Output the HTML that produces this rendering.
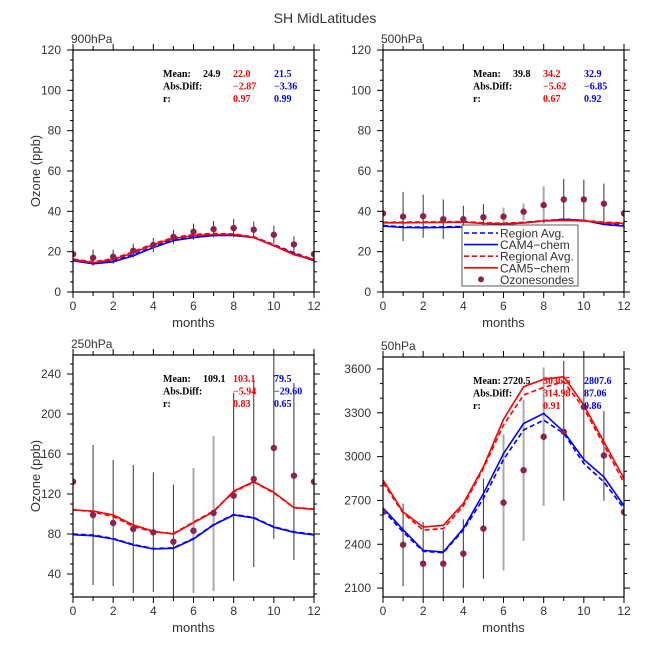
<!DOCTYPE html>
<html><head><meta charset="utf-8"><style>
body{margin:0;background:#fff}
svg text{font-family:"Liberation Sans",sans-serif}
.st{font-family:"Liberation Serif",serif;font-size:10px;font-weight:bold}
</style></head><body>
<svg id="c" width="648" height="648" xmlns="http://www.w3.org/2000/svg">
<text x="325" y="23" text-anchor="middle" font-size="14" fill="#333">SH MidLatitudes</text>
</svg>
<script>
const months=[0,1,2,3,4,5,6,7,8,9,10,11,12];
// 900hPa
const p900_cam4=[15.5,14,15,18,22,25.5,27,28,28,27,23,19,15.5];
const p900_cam4d=[16,14.5,15.5,18.5,22.5,26,27.5,28,28.2,27.3,23.5,19.5,16];
const p900_cam5=[16,14.5,16,19.5,23.5,26.5,28,28.5,28.5,27,23,18.5,16];
const p900_cam5d=[16.3,15,16.5,20,24,27,28.5,29,28.8,27.3,23.3,18.8,16.3];
const p900_obs=[18.8,17,17.5,20.5,23.3,27.3,29.9,31.2,31.7,30.9,28.4,23.6,18.8];
const p900_err=[0,4,3.5,3.5,3.5,3.5,4,4,4.5,4,4.5,4,0];
// 500hPa
const p500_cam4=[32.7,32,31.9,32,32.2,32.6,33.6,34.3,35.2,36,35.5,33.5,32.7];
const p500_cam4d=[33,32.3,32.2,32.3,32.5,32.9,33.8,34.5,35.4,36.1,35.6,33.8,33];
const p500_cam5=[34.3,34.3,34.4,34.5,34.6,34,33.8,34.2,35.2,35.5,35.2,34.3,34];
const p500_cam5d=[34.6,34.6,34.7,34.8,34.9,34.3,34.1,34.5,35.4,35.7,35.5,34.6,34.3];
const p500_obs=[39,37.4,37.6,36.1,36.1,37.1,37.4,39.8,43.1,45.9,45.9,43.8,39];
const p500_err=[0,12.2,10.7,9.8,6.7,6.4,4.5,4.1,9.3,10.2,9.8,10,0];
// 250hPa
const p250_cam4=[79.3,78.3,75,69,65,65.7,75,89,99,96,86.7,81.7,79];
const p250_cam4d=[80,79,75.5,69.5,65.5,66.2,75.5,89.5,99.5,96.5,87.2,82.2,79.7];
const p250_cam5=[104,103,99,89,82.7,80,91.3,102.3,123,132.3,121.7,106.3,104.7];
const p250_cam5d=[104.5,102,97.5,87.5,82,80.5,92,103,122,132,121,106.5,105];
const p250_obs=[132.3,99,91,85,81.7,72.3,83.3,101,118.3,135,166,138.3,132.3];
const p250_hi=[132.3,169,154,149,141.7,129.3,146,178,221,234,270,231,132.3];
const p250_lo=[132.3,29,28,21,22,17,21,23,33,47,75,54,132.3];
// 50hPa
const p50_cam4=[2649,2500,2358,2347,2507,2747,3021,3227,3296,3170,2980,2861,2663];
const p50_cam4d=[2633,2484,2351,2342,2496,2713,2980,3182,3250,3158,2953,2827,2644];
const p50_cam5=[2839,2621,2518,2530,2679,2930,3255,3479,3529,3547,3353,3101,2850];
const p50_cam5d=[2821,2614,2496,2507,2661,2919,3216,3422,3474,3513,3330,3079,2821];
const p50_obs=[2621,2397,2267,2267,2336,2507,2685,2907,3136,3170,3340,3008,2621];
const p50_hi=[2621,2679,2553,2496,2571,2850,3154,3387,3611,3655,3700,3312,2621];
const p50_lo=[2621,2112,2026,2039,2100,2164,2221,2422,2662,2697,2953,2697,2621];
const yt900=[0,20,40,60,80,100,120];
const yt250=[40,80,120,160,200,240];
const yt50=[2100,2400,2700,3000,3300,3600];
const xt=[0,2,4,6,8,10,12];

const NS="http://www.w3.org/2000/svg";
const svg=document.getElementById('c');
function mk(tag,attrs,parent){const e=document.createElementNS(NS,tag);for(const k in attrs)e.setAttribute(k,attrs[k]);(parent||svg).appendChild(e);return e;}

function panel(o){
  const g=mk('g',{});
  
  
  const L=o.x0,R=o.x1,T=o.y0,B=o.y1;
  const sx=v=>L+(v-0)/12*(R-L);
  const sy=v=>B-(v-o.min)/(o.max-o.min)*(B-T);
  // clip
  const cid='clip'+o.name;
  const cp=mk('clipPath',{id:cid},g);mk('rect',{x:L,y:T,width:R-L,height:B-T},cp);
  const pg=mk('g',{'clip-path':'url(#'+cid+')'},g);
  // error bars
  for(let i=0;i<months.length;i++){
    const hi=o.hi?o.hi[i]:o.obs[i]+o.err[i], lo=o.lo?o.lo[i]:o.obs[i]-o.err[i];
    if(hi-lo<=0)continue;
    const gray=o.gray&&o.gray.includes(i);
    const e=mk('line',{x1:sx(months[i]),x2:sx(months[i]),y1:sy(hi),y2:sy(lo),stroke:gray?'#aaa':'#333','stroke-width':gray?2:1},pg);
    
    
  }
  const series=[[o.c4,'#0000ff',''],[o.c4d,'#0000ff','5,3'],[o.c5,'#ff0000',''],[o.c5d,'#ff0000','5,3']];
  const nm=['cam4-chem-line','region-avg-line','cam5-chem-line','regional-avg-line'];
  series.forEach((s,k)=>{
    const pts=months.map((m,i)=>sx(m).toFixed(1)+','+sy(s[0][i]).toFixed(1)).join(' ');
    const p=mk('polyline',{points:pts,fill:'none',stroke:s[1],'stroke-width':1.6,'stroke-dasharray':s[2]},pg);
    
    
  });
  for(let i=0;i<months.length;i++){
    const c=mk('circle',{cx:sx(months[i]),cy:sy(o.obs[i]),r:3.2,fill:'#8b2252'},pg);
    
    
  }
  // frame
  mk('rect',{x:L,y:T,width:R-L,height:B-T,fill:'none',stroke:'#000','stroke-width':1.2},g);
  // x ticks
  for(let m=0;m<=12;m+=0.5){
    const maj=m%2===0, mid=Number.isInteger(m);
    const len=maj?6:(mid?4:0);
    if(!len)continue;
    mk('line',{x1:sx(m),x2:sx(m),y1:B,y2:B+len,stroke:'#000'},g);
    mk('line',{x1:sx(m),x2:sx(m),y1:T,y2:T-len,stroke:'#000'},g);
  }
  xt.forEach(v=>{const t=mk('text',{x:sx(v),y:B+18,'text-anchor':'middle','font-size':12,fill:'#333'},g);t.textContent=v;
    });
  // y ticks
  const step=o.yt[1]-o.yt[0], ms=step/o.nmin;
  for(let v=o.yt[0]-step;v<=o.max+1e-6;v+=ms){
    if(v<o.min-1e-6)continue;
    const maj=Math.abs(((v-o.yt[0])/step)-Math.round((v-o.yt[0])/step))<1e-6;
    const len=maj?6:3;
    mk('line',{x1:L,x2:L-len,y1:sy(v),y2:sy(v),stroke:'#000'},g);
    mk('line',{x1:R,x2:R+len,y1:sy(v),y2:sy(v),stroke:'#000'},g);
  }
  o.yt.forEach(v=>{const t=mk('text',{x:L-12,y:sy(v)+4,'text-anchor':'end','font-size':12,fill:'#333'},g);t.textContent=v;
    });
  const lab=mk('text',{x:L-2,y:T-7,'font-size':12,fill:'#333'},g);lab.textContent=o.label;
  
  const xl=mk('text',{x:(L+R)/2,y:B+35,'text-anchor':'middle','font-size':13,fill:'#333'},g);xl.textContent='months';
  
  if(o.ylab){const yl=mk('text',{x:0,y:0,'text-anchor':'middle','font-size':13,fill:'#333',transform:'translate(40,'+((T+B)/2)+') rotate(-90)'},g);yl.textContent='Ozone (ppb)';
    }
  // stats
  const sxp=L+90, syp=T+27;
  const rows=[['Mean:',o.s[0],o.s[1],o.s[2]],['Abs.Diff:','',o.s[3],o.s[4]],['r:','',o.s[5],o.s[6]]];
  const st=mk('g',{},g);
  rows.forEach((r,k)=>{
    const y=syp+k*12.5;
    mk('text',{x:sxp,y:y,class:'st',fill:'#000'},st).textContent=r[0];
    if(r[1])mk('text',{x:sxp+(o.s[0].length>5?30:40),y:y,class:'st',fill:'#000'},st).textContent=r[1];
    mk('text',{x:sxp+70,y:y,class:'st',fill:'#ff0000'},st).textContent=r[2];
    mk('text',{x:sxp+111,y:y,class:'st',fill:'#0000ff'},st).textContent=r[3];
  });
}
panel({name:'panel-900hpa',label:'900hPa',x0:73,x1:314,y0:50,y1:292,min:0,max:120,yt:yt900,nmin:4,ylab:true,
  c4:p900_cam4,c4d:p900_cam4d,c5:p900_cam5,c5d:p900_cam5d,obs:p900_obs,err:p900_err,
  s:['24.9','22.0','21.5','\u22122.87','\u22123.36','0.97','0.99']});
panel({name:'panel-500hpa',label:'500hPa',x0:383,x1:624,y0:50,y1:292,min:0,max:120,yt:yt900,nmin:4,ylab:false,
  c4:p500_cam4,c4d:p500_cam4d,c5:p500_cam5,c5d:p500_cam5d,obs:p500_obs,err:p500_err,gray:[6,7,8],
  s:['39.8','34.2','32.9','\u22125.62','\u22126.85','0.67','0.92']});
panel({name:'panel-250hpa',label:'250hPa',x0:73,x1:314,y0:355,y1:597,min:17,max:259,yt:yt250,nmin:4,ylab:true,
  c4:p250_cam4,c4d:p250_cam4d,c5:p250_cam5,c5d:p250_cam5d,obs:p250_obs,hi:p250_hi,lo:p250_lo,gray:[6,7],
  s:['109.1','103.1','79.5','\u22125.94','\u221229.60','0.83','0.65']});
panel({name:'panel-50hpa',label:'50hPa',x0:383,x1:624,y0:357,y1:597,min:2039,max:3682,yt:yt50,nmin:3,ylab:false,
  c4:p50_cam4,c4d:p50_cam4d,c5:p50_cam5,c5d:p50_cam5d,obs:p50_obs,hi:p50_hi,lo:p50_lo,gray:[6,7,8],
  s:['2720.5','3036.5','2807.6','314.98','87.06','0.91','0.86']});
// legend
const lg=mk('g',{});


mk('rect',{x:462,y:225,width:116,height:61,fill:'#fff',stroke:'#333','stroke-width':0.8},lg);
const items=[['Region Avg.','#0000ff','5,3'],['CAM4\u2212chem','#0000ff',''],['Regional Avg.','#ff0000','5,3'],['CAM5\u2212chem','#ff0000',''],['Ozonesondes','dot','']];
items.forEach((it,k)=>{
  const y=233+k*11.6;
  const e=mk('g',{},lg);
  
  
  if(it[1]==='dot')mk('circle',{cx:481,cy:y,r:3,fill:'#8b2252'},e);
  else mk('line',{x1:464,x2:498,y1:y,y2:y,stroke:it[1],'stroke-width':1.6,'stroke-dasharray':it[2]},e);
  mk('text',{x:500,y:y+4.5,'font-size':12,fill:'#333'},e).textContent=it[0];
});
</script>
</body></html>
